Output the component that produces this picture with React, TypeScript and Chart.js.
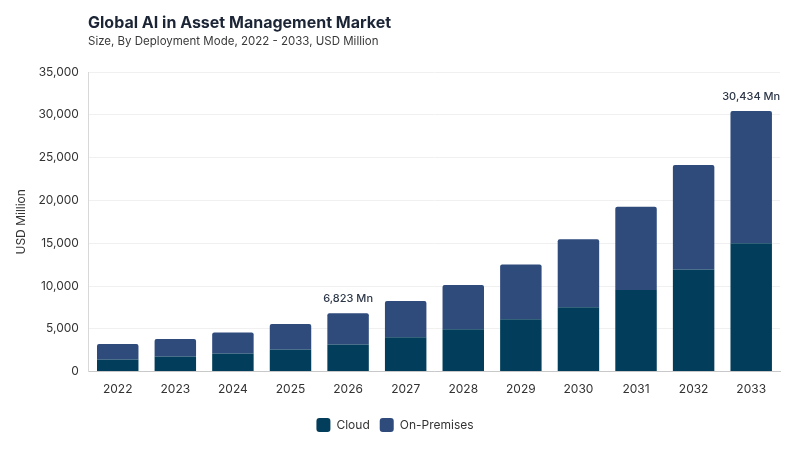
import { useEffect, useRef } from 'react';
import { Chart, registerables } from 'chart.js';

Chart.register(...registerables);

const years = ['2022', '2023', '2024', '2025', '2026', '2027', '2028', '2029', '2030', '2031', '2032', '2033'];
const cloud = [1410, 1760, 2110, 2580, 3160, 4000, 4940, 6110, 7510, 9540, 11920, 15000];
const onPremises = [1800, 2040, 2460, 2970, 3663, 4260, 5190, 6390, 7950, 9730, 12230, 15434];
const labelledYears = ['2026', '2033'];

const FONT = 'Inter, "Noto Sans", sans-serif';

export default function App() {
  const canvasRef = useRef<HTMLCanvasElement | null>(null);

  useEffect(() => {
    const totalsPlugin = {
      id: 'totals',
      afterDatasetsDraw(chart: Chart) {
        const { ctx } = chart;
        const x = chart.scales.x;
        const y = chart.scales.y;
        ctx.save();
        ctx.font = `500 11px ${FONT}`;
        ctx.fillStyle = '#2d3748';
        ctx.textAlign = 'center';
        ctx.textBaseline = 'bottom';
        labelledYears.forEach((yr) => {
          const i = years.indexOf(yr);
          const total = cloud[i] + onPremises[i];
          ctx.fillText(`${total.toLocaleString('en-US')} Mn`, x.getPixelForValue(i), y.getPixelForValue(total) - 9);
        });
        ctx.restore();
      },
    };

    const chart = new Chart(canvasRef.current!, {
      type: 'bar',
      data: {
        labels: years,
        datasets: [
          {
            label: 'Cloud',
            data: cloud,
            backgroundColor: '#023e5b',
            barPercentage: 0.72,
            categoryPercentage: 1,
          },
          {
            label: 'On-Premises',
            data: onPremises,
            backgroundColor: '#2f4b7c',
            borderRadius: { topLeft: 2, topRight: 2, bottomLeft: 0, bottomRight: 0 },
            borderSkipped: false,
            barPercentage: 0.72,
            categoryPercentage: 1,
          },
        ],
      },
      options: {
        animation: false,
        responsive: false,
        layout: { padding: { top: 72, right: 20, left: 10, bottom: 8 } },
        plugins: {
          legend: {
            position: 'bottom',
            labels: {
              font: { family: FONT, size: 12 },
              color: '#333',
              boxWidth: 14,
              boxHeight: 14,
              useBorderRadius: true,
              borderRadius: 3,
              padding: 10,
            },
          },
          tooltip: { enabled: false },
        },
        scales: {
          x: {
            stacked: true,
            grid: { display: false, drawTicks: false },
            border: { color: '#c8c8c8' },
            ticks: { font: { family: FONT, size: 12 }, color: '#333', padding: 11 },
          },
          y: {
            stacked: true,
            min: 0,
            max: 35000,
            grid: { color: '#f0f0f0', drawTicks: false },
            border: { color: '#d8d8d8' },
            ticks: {
              stepSize: 5000,
              font: { family: FONT, size: 12 },
              color: '#333',
              padding: 10,
              callback: (v) => Number(v).toLocaleString('en-US'),
            },
            title: {
              display: true,
              text: 'USD Million',
              font: { family: FONT, size: 12 },
              color: '#333',
              padding: { top: 4, bottom: 0 },
            },
          },
        },
      },
      plugins: [totalsPlugin],
    });
    return () => chart.destroy();
  }, []);

  return (
    <div style={{ position: 'absolute', left: 0, top: 0, width: 800, height: 450, background: '#fff' }}>
      <canvas ref={canvasRef} width={800} height={450} style={{ position: 'absolute', left: 0, top: 0 }} />
      <div
        style={{
          position: 'absolute',
          left: 88,
          top: 12,
          fontFamily: FONT,
          fontWeight: 700,
          fontSize: 16,
          color: '#1c2536',
        }}
      >
        Global AI in Asset Management Market
      </div>
      <div style={{ position: 'absolute', left: 88, top: 34, fontFamily: FONT, fontSize: 11.5, color: '#3a3a3a' }}>
        Size, By Deployment Mode, 2022 - 2033, USD Million
      </div>
    </div>
  );
}
